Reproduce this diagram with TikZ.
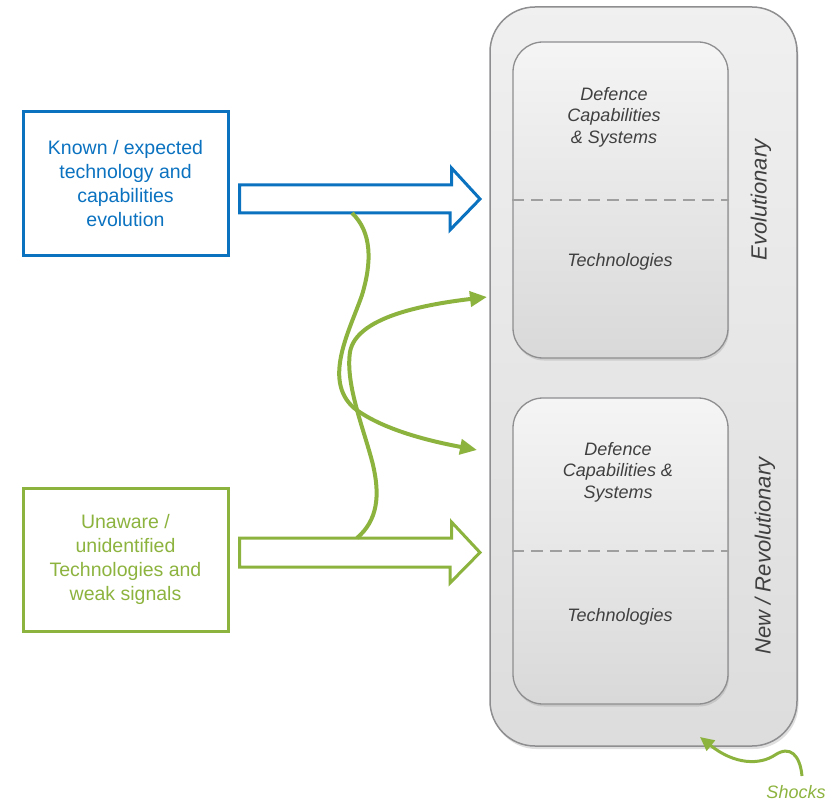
\documentclass[tikz,border=0pt]{standalone}
\usepackage{fontspec}
\setmainfont{Liberation Sans}
\usetikzlibrary{arrows.meta,positioning,calc,shadows}

\definecolor{kblue}{HTML}{0B72C0}
\definecolor{ugreen}{HTML}{8DB33F}
\definecolor{txtgray}{HTML}{404040}
\definecolor{edgegray}{HTML}{8E8E90}

\tikzset{
  srcbox/.style={draw=#1, text=#1, line width=3pt, minimum width=205pt,
    minimum height=143pt, inner sep=0pt, align=center,
    font=\fontsize{19.5}{24}\selectfont},
  blockarr/.style={draw=#1, line width=3pt, fill=white, line join=miter},
  swerve/.style={draw=ugreen, line width=4pt, -{Triangle[length=17pt,width=15pt]}},
  panel/.style={draw=edgegray, line width=1.3pt, rounded corners=30pt,
    minimum width=215pt, inner sep=0pt, top color=gray!8, bottom color=gray!30,
    drop shadow={shadow xshift=1pt, shadow yshift=-2.5pt, opacity=.25}},
  itxt/.style={text=txtgray, align=center, font=\fontsize{18}{21.5}\selectfont\itshape},
  side/.style={text=txtgray, rotate=90, font=\fontsize{22}{26}\selectfont\itshape},
  cut/.style={draw=gray!75, line width=1.3pt, dash pattern=on 12pt off 7pt}
}

\begin{document}
\begin{tikzpicture}[x=1pt,y=-1pt]
  \useasboundingbox (0,0) rectangle (829,802);

  % outer frame
  \node[draw=edgegray, line width=1.5pt, rounded corners=45pt, minimum width=307pt,
    minimum height=739pt, top color=gray!12, bottom color=gray!27,
    drop shadow={shadow xshift=1.5pt, shadow yshift=-3pt, opacity=.25}]
    (outer) at (643.5,376.5) {};

  % the two panels
  \node[panel, minimum height=316pt] (evo) at (620.5,200) {};
  \node[panel, minimum height=306pt] (rev) at (620.5,551) {};
  \draw[cut] (evo.west) -- (evo.east);
  \draw[cut] (rev.west) -- (rev.east);

  \node[itxt] (evocap) at (614,117) {Defence\\Capabilities\\\& Systems};
  \node[itxt] (evotech) at (620,262) {Technologies};
  \node[itxt] (revcap) at (618,472) {Defence\\Capabilities \&\\Systems};
  \node[itxt] (revtech) at (620,617) {Technologies};
  \node[side] (evolab) at (761,200) {Evolutionary};
  \node[side] (revlab) at (765,556) {New / Revolutionary};

  % sources
  \node[srcbox=kblue] (known) at (125.5,183.5)
    {Known / expected\\technology and\\capabilities\\evolution};
  \node[srcbox=ugreen] (unaware) at (125.5,559.5)
    {Unaware /\\unidentified\\Technologies and\\weak signals};

  % block arrows
  \draw[blockarr=kblue] ($(known.east)+(10,1.5)$) -- ++(212,0) -- ++(0,-17)
    -- (480,199) -- (450,230) -- ++(0,-17) -- ($(known.east)+(10,29.5)$) -- cycle;
  \draw[blockarr=ugreen] ($(unaware.east)+(10,-21.5)$) -- ++(212,0) -- ++(0,-16)
    -- (480,552.5) -- (450,583) -- ++(0,-16) -- ($(unaware.east)+(10,7.5)$) -- cycle;

  \coordinate (kfoot) at (352,213);
  \coordinate (utop) at (357,538);
  \coordinate (revin) at (477,450);
  \coordinate (evoin) at (487,297);

  % cross-over paths
  \draw[swerve] (kfoot) .. controls (372,232) and (372,262) .. (362,295)
    .. controls (350,330) and (322,380) .. (354,408)
    .. controls (385,432) and (440,443) .. (revin);
  \draw[swerve] (utop) .. controls (378,520) and (380,495) .. (373,465)
    .. controls (365,432) and (345,385) .. (350,352)
    .. controls (356,318) and (420,305) .. (evoin);

  % shocks
  \node[text=ugreen, inner sep=0pt, font=\fontsize{18}{21.5}\selectfont\itshape] (shocks) at (796,792) {Shocks};
  \coordinate (shockfrom) at (802,776);
  \coordinate (shockto) at (700,737);
  \draw[draw=ugreen, line width=3pt, -{Triangle[length=14pt,width=13pt]}]
    (shockfrom) .. controls (800,755) and (790,745) .. (775,755)
    .. controls (760,765) and (735,765) .. (shockto);
\end{tikzpicture}
\end{document}
